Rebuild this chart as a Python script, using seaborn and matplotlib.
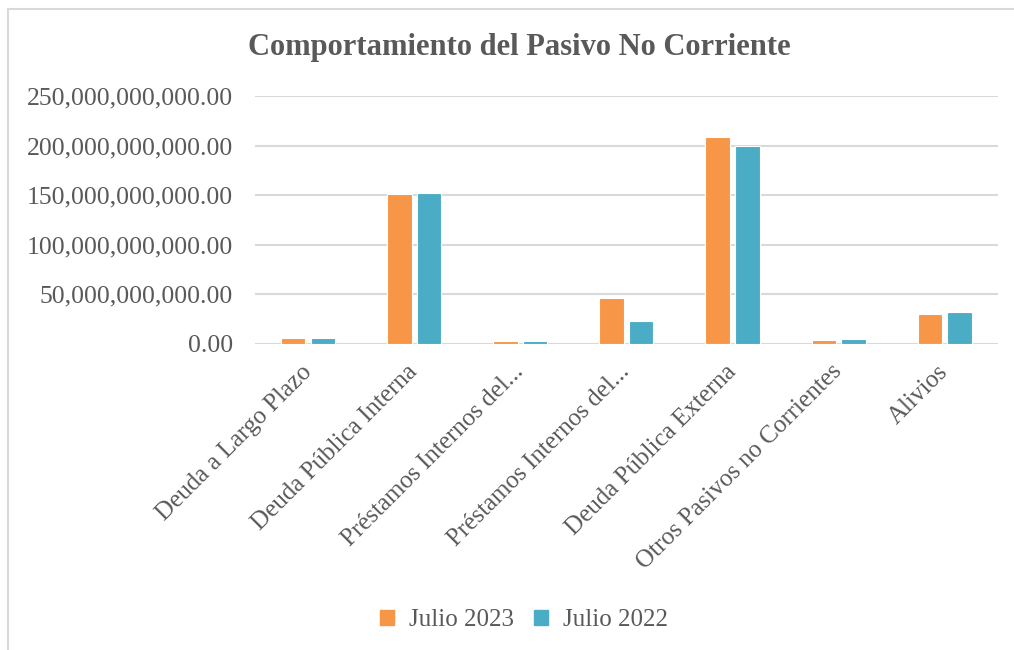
import pandas as pd
import matplotlib.pyplot as plt
import matplotlib.patches as mpatches
from matplotlib.ticker import FuncFormatter
import seaborn as sns

# data
categorias = ['Deuda a Largo Plazo', 'Deuda Pública Interna', 'Préstamos Internos del...',
              'Préstamos Internos del...', 'Deuda Pública Externa',
              'Otros Pasivos no Corrientes', 'Alivios']
julio_2023 = [6.0e9, 151.0e9, 3.0e9, 45.5e9, 208.5e9, 4.0e9, 30.3e9]
julio_2022 = [5.3e9, 152.0e9, 2.2e9, 22.3e9, 199.5e9, 4.6e9, 32.3e9]
series = ['Julio 2023', 'Julio 2022']
colores = ['#F79646', '#4BACC6']
y_ticks = [0, 50e9, 100e9, 150e9, 200e9, 250e9]

# positions keep duplicated labels apart
pos = list(range(len(categorias)))
df = pd.DataFrame({
    'pos': pos * 2,
    'valor': julio_2023 + julio_2022,
    'serie': [series[0]] * len(pos) + [series[1]] * len(pos),
})

sns.set_style('white')
plt.rcParams['font.family'] = ['Liberation Serif', 'DejaVu Serif']
gris = '#595959'

fig = plt.figure(figsize=(10.14, 6.5), dpi=100)
ax = fig.add_axes([0.2515, 0.4715, 0.7325, 0.3808])

sns.barplot(data=df, x='pos', y='valor', hue='serie', palette=colores, saturation=1,
            width=0.56, gap=0.18, edgecolor='white', linewidth=0.8,
            legend=False, ax=ax)

ax.set_ylim(0, 250e9)
ax.set_xlim(-0.5, len(categorias) - 0.5)
ax.set_yticks(y_ticks)
ax.yaxis.set_major_formatter(FuncFormatter(lambda v, p: f'{v:,.2f}'))
ax.set_xticks(pos)
ax.set_xticklabels(categorias, rotation=45, ha='right', va='center', rotation_mode='anchor')
ax.tick_params(axis='y', length=0, labelsize=18.5, colors=gris, pad=16)
ax.tick_params(axis='x', length=0, labelsize=18, colors=gris, pad=18)
ax.grid(axis='y', color='#D9D9D9', linewidth=1.5)
ax.set_axisbelow(True)
for s in ax.spines.values():
    s.set_visible(False)
ax.set_xlabel('')
ax.set_ylabel('')

fig.text(0.512, 0.927, 'Comportamiento del Pasivo No Corriente', ha='center', va='center',
         fontsize=22, fontweight='bold', color=gris)

handles = [mpatches.Patch(color=c, label=s) for c, s in zip(colores, series)]
fig.legend(handles=handles, loc='center', bbox_to_anchor=(0.517, 0.046), ncol=2, frameon=False,
           fontsize=18, labelcolor=gris, handlelength=0.55, handleheight=0.55,
           handletextpad=0.6, columnspacing=0.8)

# chart frame (left and top edges visible)
fig.patches.append(mpatches.Rectangle((8 / 1014, -0.1), 1.2, 1 - 9 / 650 + 0.1,
                                      transform=fig.transFigure, fill=False,
                                      edgecolor='#D9D9D9', linewidth=1.5))

fig.savefig('out.png', dpi=100)
